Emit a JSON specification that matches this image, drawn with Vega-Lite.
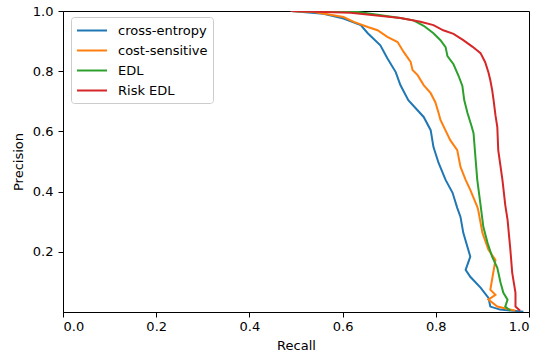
{
  "$schema": "https://vega.github.io/schema/vega-lite/v6.json",
  "width": 466,
  "height": 301,
  "autosize": {"type": "none"},
  "padding": {"left": 63, "top": 11, "right": 16, "bottom": 48},
  "background": "white",
  "config": {
    "view": {"stroke": "black", "strokeWidth": 1},
    "font": "DejaVu Sans",
    "axis": {
      "grid": false,
      "domainColor": "black",
      "tickColor": "black",
      "tickSize": 5,
      "labelColor": "black",
      "labelFontSize": 13,
      "labelFont": "DejaVu Sans",
      "titleFont": "DejaVu Sans",
      "titleFontSize": 13,
      "titleFontWeight": "normal",
      "titleColor": "black"
    }
  },
  "data": {
    "values": [
      {"model": "cross-entropy", "recall": 0.489, "precision": 1.0},
      {"model": "cross-entropy", "recall": 0.559, "precision": 0.991},
      {"model": "cross-entropy", "recall": 0.602, "precision": 0.975},
      {"model": "cross-entropy", "recall": 0.639, "precision": 0.953},
      {"model": "cross-entropy", "recall": 0.654, "precision": 0.926},
      {"model": "cross-entropy", "recall": 0.681, "precision": 0.886},
      {"model": "cross-entropy", "recall": 0.696, "precision": 0.843},
      {"model": "cross-entropy", "recall": 0.714, "precision": 0.797},
      {"model": "cross-entropy", "recall": 0.724, "precision": 0.754},
      {"model": "cross-entropy", "recall": 0.741, "precision": 0.704},
      {"model": "cross-entropy", "recall": 0.774, "precision": 0.648},
      {"model": "cross-entropy", "recall": 0.789, "precision": 0.604},
      {"model": "cross-entropy", "recall": 0.795, "precision": 0.548},
      {"model": "cross-entropy", "recall": 0.806, "precision": 0.495},
      {"model": "cross-entropy", "recall": 0.821, "precision": 0.439},
      {"model": "cross-entropy", "recall": 0.836, "precision": 0.396},
      {"model": "cross-entropy", "recall": 0.846, "precision": 0.346},
      {"model": "cross-entropy", "recall": 0.853, "precision": 0.316},
      {"model": "cross-entropy", "recall": 0.859, "precision": 0.263},
      {"model": "cross-entropy", "recall": 0.874, "precision": 0.184},
      {"model": "cross-entropy", "recall": 0.864, "precision": 0.140},
      {"model": "cross-entropy", "recall": 0.874, "precision": 0.117},
      {"model": "cross-entropy", "recall": 0.896, "precision": 0.081},
      {"model": "cross-entropy", "recall": 0.913, "precision": 0.047},
      {"model": "cross-entropy", "recall": 0.917, "precision": 0.018},
      {"model": "cross-entropy", "recall": 0.938, "precision": 0.008},
      {"model": "cross-entropy", "recall": 0.988, "precision": 0.001},

      {"model": "cost-sensitive", "recall": 0.489, "precision": 1.0},
      {"model": "cost-sensitive", "recall": 0.538, "precision": 0.997},
      {"model": "cost-sensitive", "recall": 0.602, "precision": 0.980},
      {"model": "cost-sensitive", "recall": 0.624, "precision": 0.964},
      {"model": "cost-sensitive", "recall": 0.654, "precision": 0.947},
      {"model": "cost-sensitive", "recall": 0.675, "precision": 0.936},
      {"model": "cost-sensitive", "recall": 0.696, "precision": 0.914},
      {"model": "cost-sensitive", "recall": 0.718, "precision": 0.897},
      {"model": "cost-sensitive", "recall": 0.731, "precision": 0.864},
      {"model": "cost-sensitive", "recall": 0.746, "precision": 0.831},
      {"model": "cost-sensitive", "recall": 0.750, "precision": 0.804},
      {"model": "cost-sensitive", "recall": 0.761, "precision": 0.787},
      {"model": "cost-sensitive", "recall": 0.774, "precision": 0.754},
      {"model": "cost-sensitive", "recall": 0.789, "precision": 0.727},
      {"model": "cost-sensitive", "recall": 0.799, "precision": 0.697},
      {"model": "cost-sensitive", "recall": 0.806, "precision": 0.661},
      {"model": "cost-sensitive", "recall": 0.810, "precision": 0.638},
      {"model": "cost-sensitive", "recall": 0.831, "precision": 0.571},
      {"model": "cost-sensitive", "recall": 0.846, "precision": 0.538},
      {"model": "cost-sensitive", "recall": 0.853, "precision": 0.482},
      {"model": "cost-sensitive", "recall": 0.864, "precision": 0.439},
      {"model": "cost-sensitive", "recall": 0.874, "precision": 0.406},
      {"model": "cost-sensitive", "recall": 0.889, "precision": 0.349},
      {"model": "cost-sensitive", "recall": 0.891, "precision": 0.339},
      {"model": "cost-sensitive", "recall": 0.900, "precision": 0.263},
      {"model": "cost-sensitive", "recall": 0.913, "precision": 0.207},
      {"model": "cost-sensitive", "recall": 0.928, "precision": 0.173},
      {"model": "cost-sensitive", "recall": 0.917, "precision": 0.074},
      {"model": "cost-sensitive", "recall": 0.928, "precision": 0.057},
      {"model": "cost-sensitive", "recall": 0.913, "precision": 0.041},
      {"model": "cost-sensitive", "recall": 0.932, "precision": 0.018},
      {"model": "cost-sensitive", "recall": 0.971, "precision": 0.004},

      {"model": "EDL", "recall": 0.489, "precision": 1.0},
      {"model": "EDL", "recall": 0.632, "precision": 0.997},
      {"model": "EDL", "recall": 0.724, "precision": 0.977},
      {"model": "EDL", "recall": 0.752, "precision": 0.969},
      {"model": "EDL", "recall": 0.774, "precision": 0.951},
      {"model": "EDL", "recall": 0.795, "precision": 0.926},
      {"model": "EDL", "recall": 0.810, "precision": 0.903},
      {"model": "EDL", "recall": 0.821, "precision": 0.880},
      {"model": "EDL", "recall": 0.825, "precision": 0.850},
      {"model": "EDL", "recall": 0.838, "precision": 0.823},
      {"model": "EDL", "recall": 0.849, "precision": 0.784},
      {"model": "EDL", "recall": 0.857, "precision": 0.751},
      {"model": "EDL", "recall": 0.861, "precision": 0.704},
      {"model": "EDL", "recall": 0.868, "precision": 0.661},
      {"model": "EDL", "recall": 0.876, "precision": 0.621},
      {"model": "EDL", "recall": 0.881, "precision": 0.594},
      {"model": "EDL", "recall": 0.885, "precision": 0.515},
      {"model": "EDL", "recall": 0.889, "precision": 0.439},
      {"model": "EDL", "recall": 0.896, "precision": 0.356},
      {"model": "EDL", "recall": 0.902, "precision": 0.283},
      {"model": "EDL", "recall": 0.911, "precision": 0.230},
      {"model": "EDL", "recall": 0.921, "precision": 0.183},
      {"model": "EDL", "recall": 0.932, "precision": 0.147},
      {"model": "EDL", "recall": 0.939, "precision": 0.097},
      {"model": "EDL", "recall": 0.945, "precision": 0.064},
      {"model": "EDL", "recall": 0.954, "precision": 0.041},
      {"model": "EDL", "recall": 0.949, "precision": 0.018},
      {"model": "EDL", "recall": 0.960, "precision": 0.004},

      {"model": "Risk EDL", "recall": 0.489, "precision": 1.0},
      {"model": "Risk EDL", "recall": 0.617, "precision": 0.994},
      {"model": "Risk EDL", "recall": 0.724, "precision": 0.977},
      {"model": "Risk EDL", "recall": 0.767, "precision": 0.964},
      {"model": "Risk EDL", "recall": 0.795, "precision": 0.953},
      {"model": "Risk EDL", "recall": 0.816, "precision": 0.936},
      {"model": "Risk EDL", "recall": 0.838, "precision": 0.924},
      {"model": "Risk EDL", "recall": 0.859, "precision": 0.903},
      {"model": "Risk EDL", "recall": 0.879, "precision": 0.881},
      {"model": "Risk EDL", "recall": 0.896, "precision": 0.860},
      {"model": "Risk EDL", "recall": 0.906, "precision": 0.830},
      {"model": "Risk EDL", "recall": 0.913, "precision": 0.796},
      {"model": "Risk EDL", "recall": 0.917, "precision": 0.770},
      {"model": "Risk EDL", "recall": 0.921, "precision": 0.737},
      {"model": "Risk EDL", "recall": 0.924, "precision": 0.704},
      {"model": "Risk EDL", "recall": 0.928, "precision": 0.654},
      {"model": "Risk EDL", "recall": 0.932, "precision": 0.614},
      {"model": "Risk EDL", "recall": 0.934, "precision": 0.538},
      {"model": "Risk EDL", "recall": 0.943, "precision": 0.439},
      {"model": "Risk EDL", "recall": 0.949, "precision": 0.356},
      {"model": "Risk EDL", "recall": 0.954, "precision": 0.306},
      {"model": "Risk EDL", "recall": 0.960, "precision": 0.207},
      {"model": "Risk EDL", "recall": 0.964, "precision": 0.130},
      {"model": "Risk EDL", "recall": 0.971, "precision": 0.064},
      {"model": "Risk EDL", "recall": 0.971, "precision": 0.018},
      {"model": "Risk EDL", "recall": 0.981, "precision": 0.004}
    ]
  },
  "mark": {"type": "line", "strokeWidth": 2, "clip": true},
  "encoding": {
    "x": {
      "field": "recall",
      "type": "quantitative",
      "scale": {"domain": [0, 1], "nice": false, "zero": false},
      "axis": {"title": "Recall", "values": [0, 0.2, 0.4, 0.6, 0.8, 1.0], "format": ".1f", "titlePadding": 6, "labelPadding": 3}
    },
    "y": {
      "field": "precision",
      "type": "quantitative",
      "scale": {"domain": [0, 1], "nice": false, "zero": false},
      "axis": {"title": "Precision", "values": [0.2, 0.4, 0.6, 0.8, 1.0], "format": ".1f", "titlePadding": 7, "labelPadding": 5}
    },
    "color": {
      "field": "model",
      "type": "nominal",
      "scale": {
        "domain": ["cross-entropy", "cost-sensitive", "EDL", "Risk EDL"],
        "range": ["#1f77b4", "#ff7f0e", "#2ca02c", "#d62728"]
      },
      "legend": {
        "title": null,
        "orient": "none",
        "legendX": 8,
        "legendY": 6,
        "symbolType": "M-1,0H3",
        "symbolSize": 225,
        "symbolStrokeWidth": 2,
        "labelFontSize": 13,
        "labelFont": "DejaVu Sans",
        "labelColor": "black",
        "labelOffset": 25,
        "rowPadding": 4,
        "padding": 5,
        "strokeColor": "#cccccc",
        "fillColor": "white",
        "cornerRadius": 3
      }
    },
    "order": {"field": "precision", "sort": "descending"}
  }
}
